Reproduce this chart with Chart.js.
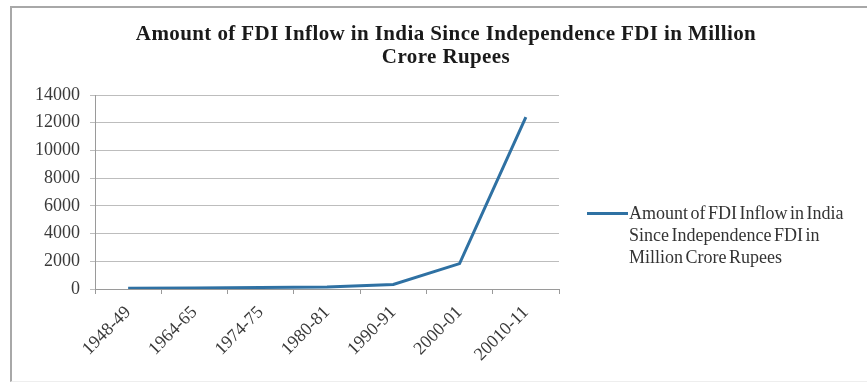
<!DOCTYPE html>
<html>
<head>
<meta charset="utf-8">
<script src="https://cdn.jsdelivr.net/npm/chart.js@4/dist/chart.umd.min.js"></script>
<style>
  html, body { margin: 0; padding: 0; background: #fff; }
  #wrap { position: relative; width: 867px; height: 386px; overflow: hidden; }
  #frame { position: absolute; left: 10px; top: 6px; right: -4px; bottom: 4px;
           border-left: 2px solid #a8a8a8; border-top: 2px solid #a8a8a8; border-bottom: 1px solid #eee; }
  #title { position: absolute; left: 0; width: 892px; top: 22px; text-align: center;
           font: bold 21px "Liberation Serif", "Times New Roman", serif; letter-spacing: 0.4px;
           color: #1a1a1a; line-height: 23px; }
  #legend { position: absolute; left: 587px; top: 202px; font: 18px "Liberation Serif", serif;
            color: #333; line-height: 22px; }
  #legend .sw { position: absolute; left: 0; top: 10px; width: 41px; height: 3px; }
  #legend .txt { margin-left: 42px; width: 236px; word-spacing: -2px; }
  canvas { position: absolute; left: 0; top: 0; }
</style>
</head>
<body>
<div id="wrap">
  <div id="frame"></div>
  <canvas id="myChart" width="867" height="386"></canvas>
  <div id="title"></div>
  <div id="legend"></div>
</div>
<script>
// 年度ごとのFDI流入額
var categories = ['1948-49', '1964-65', '1974-75', '1980-81', '1990-91', '2000-01', '20010-11'];
var fdiValues = [60, 80, 110, 150, 330, 1830, 12400];
var yTickValues = [0, 2000, 4000, 6000, 8000, 10000, 12000, 14000];
var titleLines = ['Amount of FDI Inflow in India Since Independence FDI in Million', 'Crore Rupees'];
var seriesName = 'Amount of FDI Inflow in India Since Independence FDI in Million Crore Rupees';

var lineColor = '#2f71a3';
var tickFont = { family: '"Liberation Serif", serif', size: 18 };

document.getElementById('title').innerHTML = titleLines.join('<br>');

var ctx = document.getElementById('myChart');

var myChart = new Chart(ctx, {
    type: 'line',
    data: {
        labels: categories,
        datasets: [{
            label: seriesName,
            data: fdiValues,
            borderColor: lineColor,
            borderWidth: 3,
            pointRadius: 0,
            tension: 0,
            fill: false
        }]
    },
    options: {
        responsive: false,
        animation: false,
        layout: {
            padding: { left: 0, right: 308, top: 95, bottom: 0 }
        },
        plugins: {
            legend: { display: false },
            title: { display: false },
            tooltip: { enabled: false }
        },
        scales: {
            x: {
                offset: true,
                grid: {
                    offset: true,
                    drawOnChartArea: false,
                    drawTicks: true,
                    tickLength: 5,
                    color: '#9a9a9a'
                },
                border: { color: '#9a9a9a', width: 1 },
                ticks: {
                    minRotation: 45,
                    maxRotation: 45,
                    color: '#3a3a3a',
                    font: tickFont,
                    padding: 8
                },
                afterFit: function(scale) { scale.height = 97; }
            },
            y: {
                min: 0,
                max: 14000,
                afterBuildTicks: function(scale) {
                    scale.ticks = yTickValues.map(function(v) { return { value: v }; });
                },
                grid: {
                    color: '#bdbdbd',
                    tickLength: 5,
                    lineWidth: 1
                },
                border: { color: '#9a9a9a', width: 1 },
                ticks: {
                    color: '#3a3a3a',
                    font: tickFont,
                    padding: 10,
                    callback: function(value) { return String(value); }
                },
                afterFit: function(scale) { scale.width = 95; }
            }
        }
    }
});

// 凡例（折り返しあり）
var legendEl = document.getElementById('legend');
myChart.data.datasets.forEach(function(ds) {
    legendEl.innerHTML = '<div class="sw" style="background:' + ds.borderColor + '"></div>' +
        '<div class="txt">' + ds.label + '</div>';
});
</script>
</body>
</html>
